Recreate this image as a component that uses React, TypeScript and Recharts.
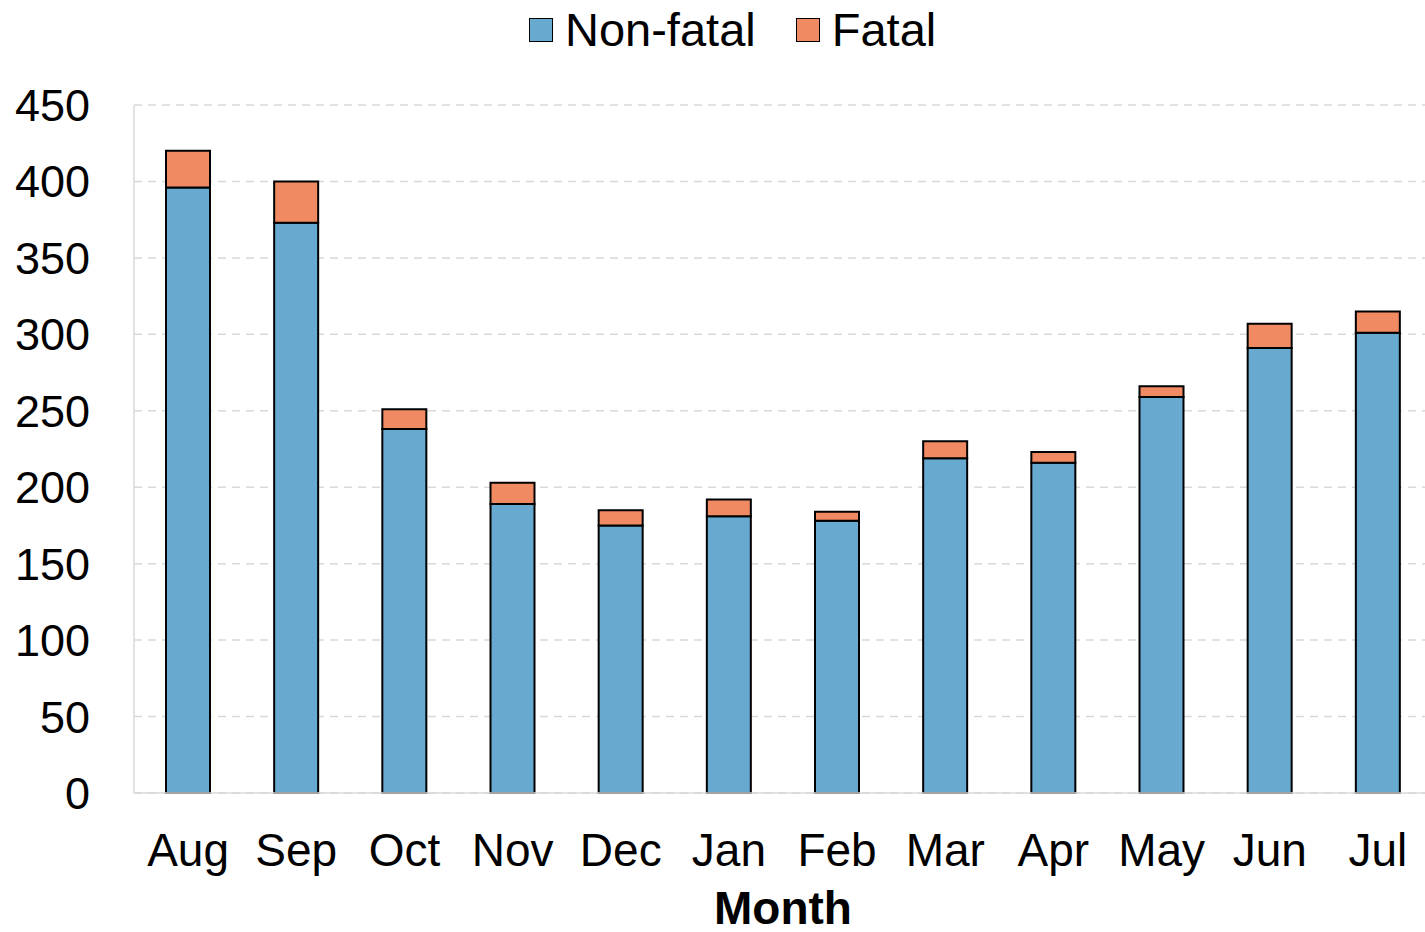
import React from 'react';
import { BarChart, Bar, XAxis, YAxis, CartesianGrid } from 'recharts';

const months = ['Aug', 'Sep', 'Oct', 'Nov', 'Dec', 'Jan', 'Feb', 'Mar', 'Apr', 'May', 'Jun', 'Jul'];
const nonFatal = [396, 373, 238, 189, 175, 181, 178, 219, 216, 259, 291, 301];
const fatal = [24, 27, 13, 14, 10, 11, 6, 11, 7, 7, 16, 14];
const yTicks = [0, 50, 100, 150, 200, 250, 300, 350, 400, 450];

const colors = {
    nonFatal: '#67A9CF',
    fatal: '#EF8A62',
    grid: '#d9d9d9',
};

const font = '"Liberation Sans", Arial, sans-serif';

const data = months.map((m, i) => ({
    month: m,
    'Non-fatal': nonFatal[i],
    Fatal: fatal[i],
}));

const LegendItem = ({ color, label }: { color: string; label: string }) => (
    <div style={{ display: 'flex', alignItems: 'center', marginRight: 40 }}>
        <div style={{ width: 22, height: 22, background: color, border: '1.5px solid #000', marginRight: 12 }} />
        <span style={{ fontSize: 47, lineHeight: '47px' }}>{label}</span>
    </div>
);

export default function App() {
    return (
        <div style={{ position: 'absolute', left: 0, top: 0, width: 1425, height: 932, overflow: 'hidden', fontFamily: font, background: '#fff' }}>
            <div
                style={{
                    position: 'absolute',
                    top: 6,
                    left: 529,
                    display: 'flex',
                    alignItems: 'center',
                    color: '#000',
                }}
            >
                <LegendItem color={colors.nonFatal} label="Non-fatal" />
                <LegendItem color={colors.fatal} label="Fatal" />
            </div>
            <BarChart
                width={1432}
                height={932}
                data={data}
                margin={{ top: 105, right: 0, left: 0, bottom: 0 }}
                barCategoryGap={0}
            >
                <CartesianGrid vertical={false} stroke={colors.grid} strokeDasharray="8 6" strokeWidth={1.5} />
                <XAxis
                    dataKey="month"
                    height={139}
                    stroke={colors.grid}
                    strokeWidth={1.5}
                    tickLine={false}
                    tickSize={0}
                    tickMargin={40}
                    tick={{ fill: '#000', fontSize: 46, fontFamily: font }}
                    interval={0}
                    label={{
                        value: 'Month',
                        position: 'insideBottom',
                        offset: 8,
                        fill: '#000',
                        fontSize: 46,
                        fontWeight: 'bold',
                        fontFamily: font,
                    }}
                />
                <YAxis
                    width={134}
                    domain={[0, 450]}
                    ticks={yTicks}
                    interval={0}
                    stroke={colors.grid}
                    strokeWidth={1.5}
                    tickLine={false}
                    tickSize={0}
                    tickMargin={44}
                    tick={{ fill: '#000', fontSize: 45, fontFamily: font }}
                />
                <Bar dataKey="Non-fatal" stackId="a" fill={colors.nonFatal} stroke="#000" strokeWidth={2} barSize={44} isAnimationActive={false} />
                <Bar dataKey="Fatal" stackId="a" fill={colors.fatal} stroke="#000" strokeWidth={2} barSize={44} isAnimationActive={false} />
            </BarChart>
        </div>
    );
}
